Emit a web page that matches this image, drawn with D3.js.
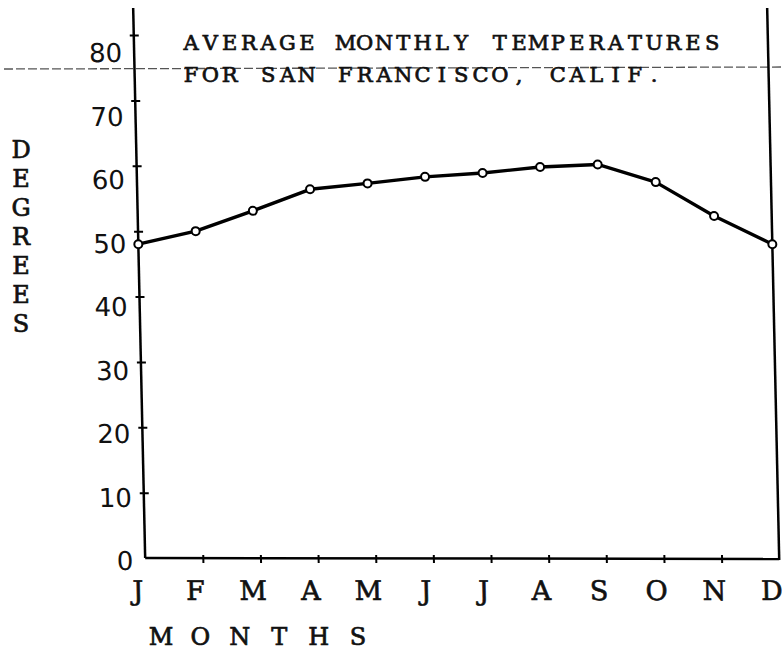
<!DOCTYPE html>
<html>
<head>
<meta charset="utf-8">
<script src="https://cdn.jsdelivr.net/npm/d3@7"></script>
<style>
  body { margin: 0; background: #fff; }
  svg { display: block; }
</style>
</head>
<body>
<div id="main"></div>
<script>
// data
const months = ["Jan", "Feb", "Mar", "Apr", "May", "Jun", "Jul", "Aug", "Sep", "Oct", "Nov", "Dec"];
const monthLetters = ["J", "F", "M", "A", "M", "J", "J", "A", "S", "O", "N", "D"];
const temps = [48, 50, 53.1, 56.4, 57.3, 58.3, 58.9, 59.8, 60.2, 57.5, 52.3, 48];
const yTicks = [0, 10, 20, 30, 40, 50, 60, 70, 80];
const titleLines = ["AVERAGE MONTHLY TEMPERATURES", "FOR SAN FRANCISCO, CALIF."];

const ctx = { WIDTH: 784, HEIGHT: 652 };
const typeFont = "'DejaVu Serif', 'Liberation Serif', serif";

// typewriter: every char in its own fixed cell
function typeLine(parent, str, x0, y0, dx, dy, size) {
    parent.append("g").selectAll("text")
        .data(str.split(""))
        .enter().append("text")
        .attr("x", (c, i) => x0 + i * dx)
        .attr("y", (c, i) => y0 + i * dy)
        .attr("text-anchor", "middle")
        .attr("font-family", typeFont)
        .attr("font-size", size)
        .attr("fill", "#111")
        .attr("stroke", "#111")
        .attr("stroke-width", 0.7)
        .text(c => c);
}

function createViz() {
    const svg = d3.select("#main").append("svg")
        .attr("width", ctx.WIDTH)
        .attr("height", ctx.HEIGHT);

    // fold line across the scan
    svg.append("line")
        .attr("x1", 4).attr("x2", 784)
        .attr("y1", 69).attr("y2", 67)
        .attr("stroke", "#555")
        .attr("stroke-width", 1.3)
        .attr("stroke-dasharray", "9,3");

    // the page was scanned a bit skewed
    const g = svg.append("g").attr("transform", "skewX(1.25)");

    const x = d3.scalePoint().domain(months).range([133, 767]);
    const y = d3.scaleLinear().domain([0, 80]).range([558, 35]);
    // typed labels sit on their own spacing
    const yLab = d3.scaleLinear().domain([0, 80]).range([561, 53]);

    // left axis
    g.append("line")
        .attr("x1", x("Jan")).attr("x2", x("Jan"))
        .attr("y1", 8).attr("y2", y(0))
        .attr("stroke", "#000").attr("stroke-width", 2.5);
    const la = g.append("g")
        .attr("transform", `translate(${x("Jan")},0)`)
        .call(d3.axisLeft(y).tickValues(yTicks.slice(1)).tickFormat("").tickSize(5));
    la.select(".domain").remove();
    la.selectAll(".tick line").attr("x1", -4).attr("x2", 5)
        .attr("stroke", "#000").attr("stroke-width", 2);

    g.selectAll(".ylab")
        .data(yTicks)
        .enter().append("text")
        .attr("class", "ylab")
        .attr("x", x("Jan") - 12)
        .attr("y", d => yLab(d))
        .attr("dy", "0.36em")
        .attr("text-anchor", "end")
        .attr("font-family", "'DejaVu Sans', sans-serif")
        .attr("font-size", 26)
        .attr("fill", "#111")
        .text(d => d);

    // right axis
    g.append("line")
        .attr("x1", x("Dec")).attr("x2", x("Dec"))
        .attr("y1", 8).attr("y2", y(0) + 2)
        .attr("stroke", "#000").attr("stroke-width", 2.5);

    // bottom axis
    g.append("line")
        .attr("x1", x("Jan")).attr("x2", x("Dec"))
        .attr("y1", y(0)).attr("y2", y(0) + 1)
        .attr("stroke", "#000").attr("stroke-width", 2.5);
    const ba = g.append("g")
        .attr("transform", `translate(0,${y(0)})`)
        .call(d3.axisBottom(x).tickValues(months.slice(1, -1)).tickFormat("").tickSize(5));
    ba.select(".domain").remove();
    ba.selectAll(".tick line").attr("y1", -3).attr("y2", 5)
        .attr("stroke", "#000").attr("stroke-width", 2);

    g.selectAll(".xlab")
        .data(months)
        .enter().append("text")
        .attr("class", "xlab")
        .attr("x", d => x(d) - 8)
        .attr("y", 600)
        .attr("text-anchor", "middle")
        .attr("font-family", typeFont)
        .attr("font-size", 27)
        .attr("fill", "#111")
        .attr("stroke", "#111")
        .attr("stroke-width", 0.6)
        .text((d, i) => monthLetters[i]);

    // the temperature line
    const line = d3.line()
        .x((d, i) => x(months[i]))
        .y(d => y(d));
    g.append("path")
        .datum(temps)
        .attr("d", line)
        .attr("fill", "none")
        .attr("stroke", "#000")
        .attr("stroke-width", 3.4)
        .attr("stroke-linejoin", "round");
    g.selectAll(".pt")
        .data(temps)
        .enter().append("circle")
        .attr("class", "pt")
        .attr("cx", (d, i) => x(months[i]))
        .attr("cy", d => y(d))
        .attr("r", 4)
        .attr("fill", "#fff")
        .attr("stroke", "#000")
        .attr("stroke-width", 2);

    // title
    titleLines.forEach((s, i) => typeLine(svg, s, 191, 50 + i * 32, 19.3, 0, 21));

    // axis titles, typed
    typeLine(svg, "DEGREES", 21, 158, 0, 29, 24);
    typeLine(svg, "MONTHS", 161, 645, 39.4, 0, 24);
}

createViz();
</script>
</body>
</html>
